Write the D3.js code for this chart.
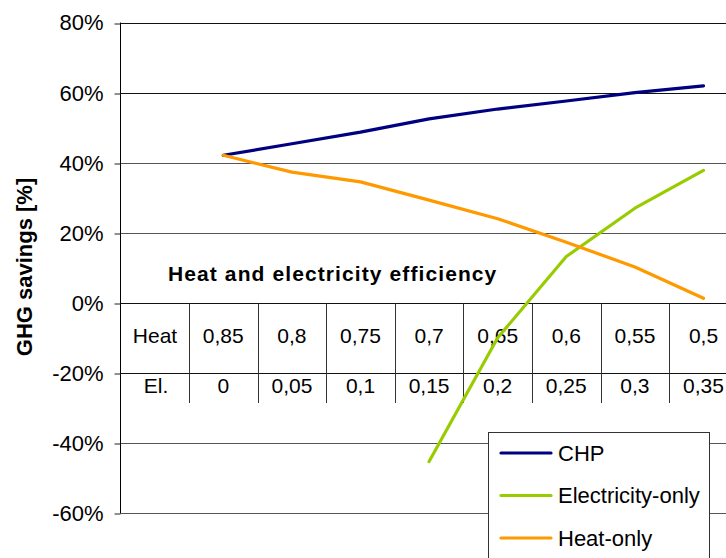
<!DOCTYPE html>
<html>
<head>
<meta charset="utf-8">
<script src="https://cdn.jsdelivr.net/npm/d3@7"></script>
<style>
body { margin: 0; background: #fff; }
svg { display: block; font-family: Arial, "Liberation Sans", sans-serif; }
</style>
</head>
<body>
<div id="chart"></div>
<script>
// efficiency pairs (x categories)
const heatEff = ["0,85", "0,8", "0,75", "0,7", "0,65", "0,6", "0,55", "0,5"];
const elEff = ["0", "0,05", "0,1", "0,15", "0,2", "0,25", "0,3", "0,35"];

// GHG savings in %
const chp = [42.1, 45.4, 48.7, 52.5, 55.3, 57.6, 60.0, 61.9];
const elecOnly = [null, null, null, -45.3, -10, 13.2, 27, 37.8];
const heatOnly = [42.1, 37.3, 34.5, 29.3, 24, 17.3, 10.2, 1.3];

const seriesNames = ["CHP", "Electricity-only", "Heat-only"];
const yTicks = [80, 60, 40, 20, 0, -20, -40, -60];

const W = 726, H = 558;
const plot = {left: 120, right: 740, top: 22.5, bottom: 513};
const colors = {"CHP": "#000080", "Electricity-only": "#99cc00", "Heat-only": "#ff9900"};

const svg = d3.select("#chart").append("svg")
    .attr("width", W)
    .attr("height", H);

const y = d3.scaleLinear()
    .domain([-60, 80])
    .range([plot.bottom, plot.top]);

const x = d3.scaleBand()
    .domain(heatEff)
    .range([189, 189 + 8 * 68.6]);

// gridlines
svg.append("g").selectAll("line")
    .data(yTicks)
    .enter().append("line")
    .attr("x1", plot.left)
    .attr("x2", plot.right)
    .attr("y1", d => Math.round(y(d)) + 0.5)
    .attr("y2", d => Math.round(y(d)) + 0.5)
    .attr("stroke", d => (d == 40 || d == 20 || d <= -40) ? "#555" : "#111")
    .attr("stroke-width", 1);

// y axis
const yAxis = svg.append("g")
    .attr("transform", `translate(${plot.left + 0.5},0)`)
    .call(d3.axisLeft(y)
        .tickValues(yTicks)
        .tickSize(6)
        .tickPadding(11)
        .tickFormat(d => d + "%"))
    .call(g => g.select(".domain").attr("stroke", "#000").attr("d", `M0,${plot.top}V${plot.bottom}`));

yAxis.selectAll(".tick line")
    .attr("stroke", "#222")
    .attr("transform", d => `translate(0,${Math.round(y(d)) + 0.5 - y(d)})`);
yAxis.selectAll(".tick text")
    .attr("font-size", "22px")
    .attr("font-family", "Arial, 'Liberation Sans', sans-serif")
    .attr("fill", "#000")
    .attr("dy", "0.34em");

// y axis title
svg.append("text")
    .attr("transform", `translate(32, 267) rotate(-90)`)
    .attr("text-anchor", "middle")
    .attr("font-size", "22px")
    .attr("font-weight", "bold")
    .text("GHG savings [%]");

// efficiency table
svg.append("text")
    .attr("x", 168)
    .attr("y", 281)
    .attr("font-size", "21px")
    .attr("font-weight", "bold")
    .attr("letter-spacing", "1.1px")
    .text("Heat and electricity efficiency");

const tTop = Math.round(y(0)) + 0.5, tBottom = 403;
svg.append("g").selectAll("line")
    .data(heatEff)
    .enter().append("line")
    .attr("x1", d => Math.round(x(d)) + 0.5)
    .attr("x2", d => Math.round(x(d)) + 0.5)
    .attr("y1", tTop)
    .attr("y2", tBottom)
    .attr("stroke", "#333");

svg.append("text")
    .attr("x", 155)
    .attr("y", 336)
    .attr("dy", "0.35em")
    .attr("text-anchor", "middle")
    .attr("font-size", "21px")
    .text("Heat");
svg.append("text")
    .attr("x", 156)
    .attr("y", 386)
    .attr("dy", "0.35em")
    .attr("text-anchor", "middle")
    .attr("font-size", "21px")
    .text("El.");

svg.selectAll(".heatcell")
    .data(heatEff)
    .enter().append("text")
    .attr("class", "heatcell")
    .attr("x", d => x(d) + x.bandwidth() / 2)
    .attr("y", 336)
    .attr("dy", "0.35em")
    .attr("text-anchor", "middle")
    .attr("font-size", "21px")
    .text(d => d);

svg.selectAll(".elcell")
    .data(elEff)
    .enter().append("text")
    .attr("class", "elcell")
    .attr("x", (d, i) => x(heatEff[i]) + x.bandwidth() / 2)
    .attr("y", 386)
    .attr("dy", "0.35em")
    .attr("text-anchor", "middle")
    .attr("font-size", "21px")
    .text(d => d);

// lines
const series = [chp, elecOnly, heatOnly].map((vals, k) => ({
    name: seriesNames[k],
    values: vals.map((v, i) => ({cat: heatEff[i], v: v}))
}));

const line = d3.line()
    .defined(d => d.v != null)
    .x(d => x(d.cat) + x.bandwidth() / 2)
    .y(d => y(d.v));

svg.append("g").selectAll("path")
    .data(series)
    .enter().append("path")
    .attr("d", d => line(d.values))
    .attr("fill", "none")
    .attr("stroke", d => colors[d.name])
    .attr("stroke-width", 3.2)
    .attr("stroke-linecap", "round")
    .attr("stroke-linejoin", "round");

// legend
const legend = svg.append("g");
legend.append("rect")
    .attr("x", 488.5)
    .attr("y", 432.5)
    .attr("width", 221)
    .attr("height", 150)
    .attr("fill", "#fff")
    .attr("stroke", "#333");

const entries = legend.selectAll(".entry")
    .data(seriesNames)
    .enter().append("g")
    .attr("class", "entry")
    .attr("transform", (d, i) => `translate(0, ${453 + i * 42.5})`);

entries.append("line")
    .attr("x1", 501)
    .attr("x2", 551)
    .attr("stroke", d => colors[d])
    .attr("stroke-width", 3.2)
    .attr("stroke-linecap", "round");

entries.append("text")
    .attr("x", 558)
    .attr("dy", "0.35em")
    .attr("font-size", "22px")
    .text(d => d);
</script>
</body>
</html>
